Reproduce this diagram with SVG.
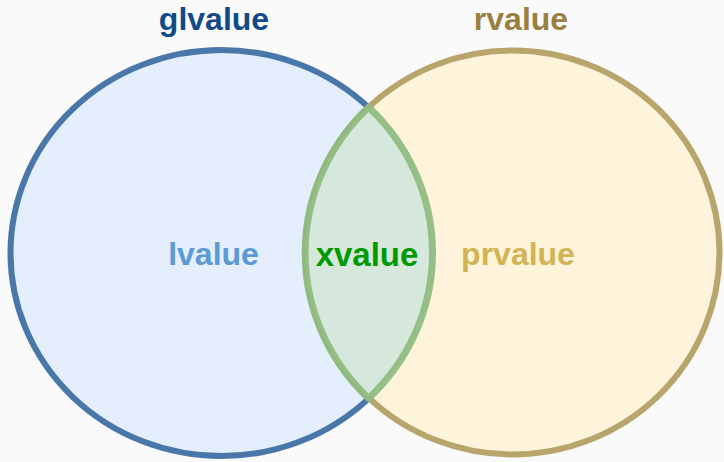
<svg xmlns="http://www.w3.org/2000/svg" width="724" height="462" viewBox="0 0 724 462">
<style>
.lbl{font-family:"Liberation Sans",Arial,sans-serif;font-weight:bold;text-anchor:middle}
</style>
<rect width="724" height="462" fill="#fafafa"/>
<g id="glvalue">
<ellipse cx="221.5" cy="253" rx="211" ry="203" fill="#e4eefc" stroke="#4a77a9" stroke-width="6"/>
<text class="lbl" x="214" y="30" font-size="32" fill="#114a87">glvalue</text>
</g>
<g id="rvalue">
<ellipse cx="512.5" cy="252.5" rx="207" ry="202" fill="#fdf4db" stroke="#b8a56c" stroke-width="6"/>
<text class="lbl" x="521" y="30" font-size="32" fill="#9a8040">rvalue</text>
</g>
<g id="xvalue">
<path d="M368.6 107.2 A207 202 0 0 0 368.6 398.3 A211 203 0 0 0 368.6 107.2 Z" fill="#d6e8db" stroke="#8dbb7f" stroke-opacity="0.92" stroke-width="7" stroke-linejoin="round"/>
<text class="lbl" x="367" y="266" font-size="33" fill="#009a00">xvalue</text>
</g>
<g id="lvalue">
<text class="lbl" x="213.5" y="265" font-size="32" fill="#5b9bd5">lvalue</text>
</g>
<g id="prvalue">
<text class="lbl" x="518" y="265" font-size="32" fill="#d3b354">prvalue</text>
</g>
<g id="connectors"/>
</svg>
